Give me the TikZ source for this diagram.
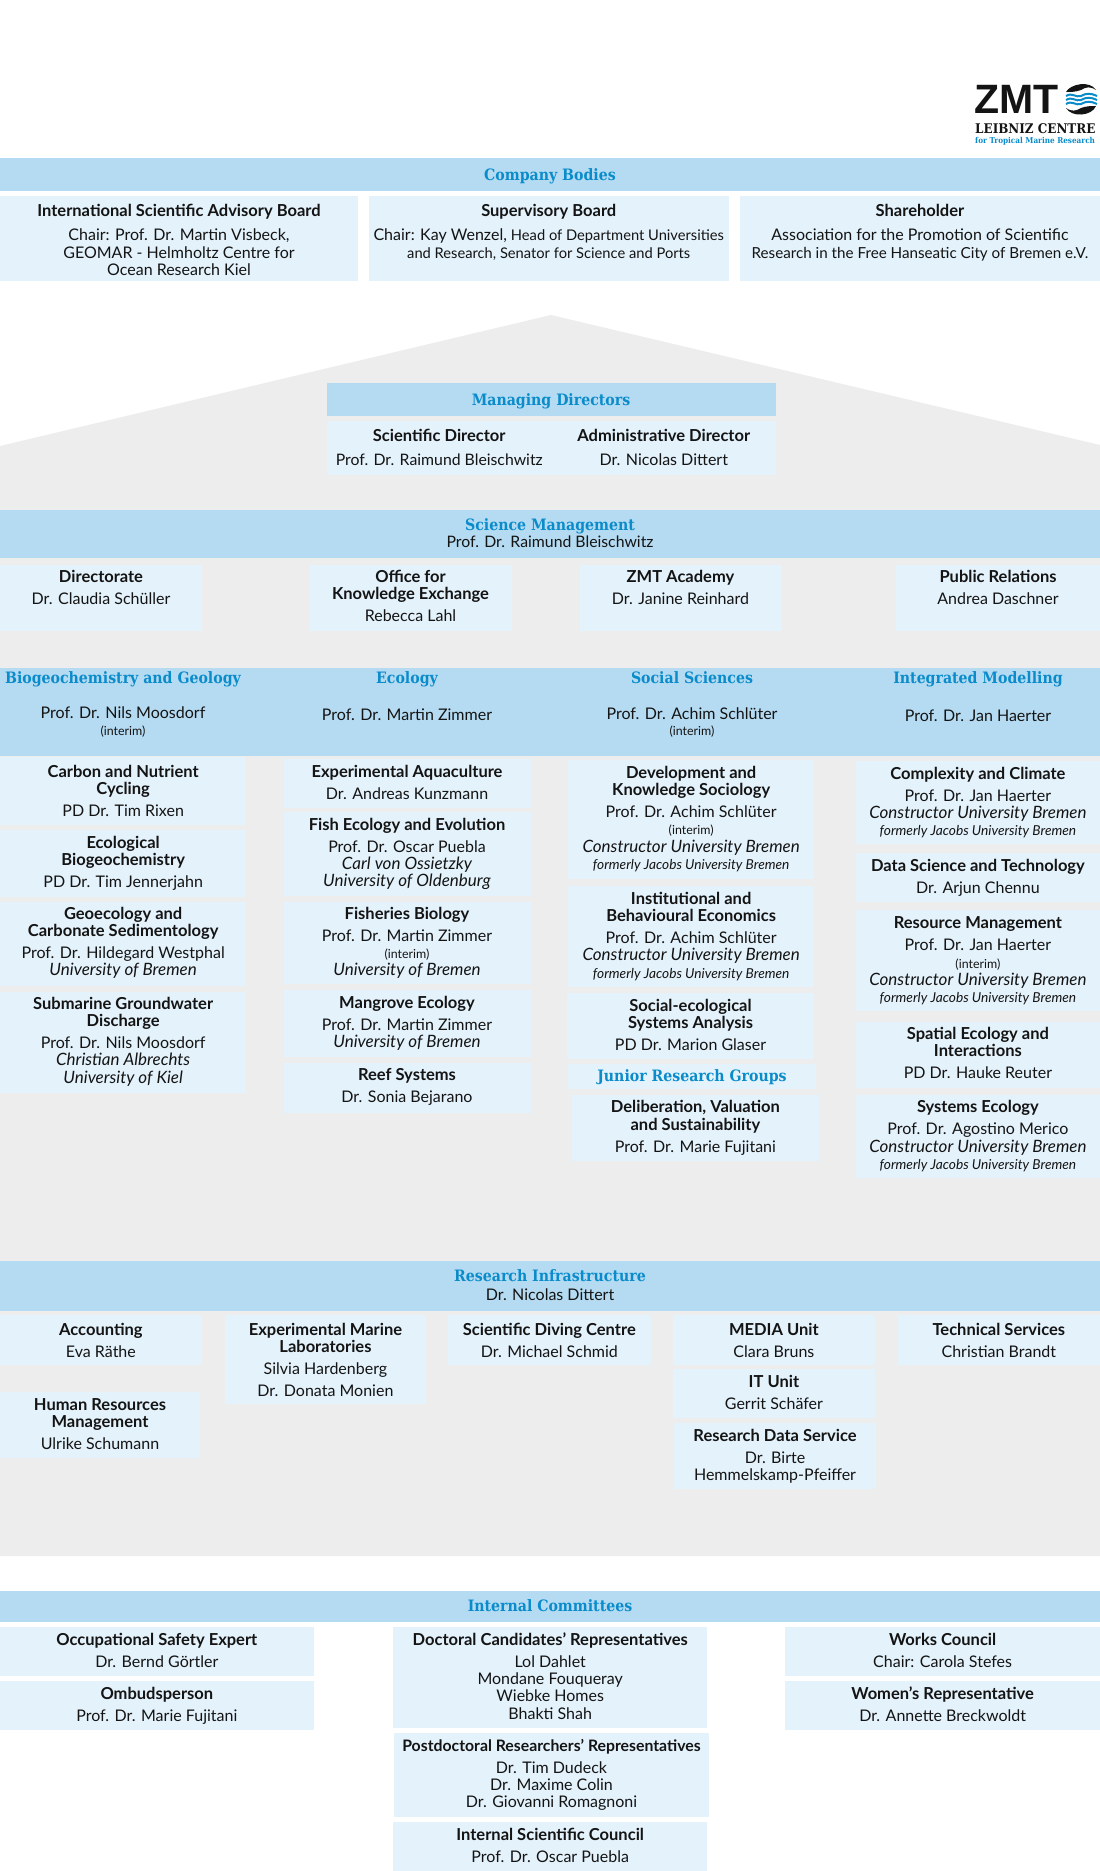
\documentclass[tikz,border=0pt]{standalone}
\usepackage{fontspec}
\setmainfont{Lato}
\newfontfamily\slabfont{DejaVu Serif Condensed}
\newfontfamily\logofont{Liberation Sans}
\definecolor{bandblue}{HTML}{B5DBF2}
\definecolor{boxblue}{HTML}{E4F2FB}
\definecolor{housegrey}{HTML}{EDEDED}
\definecolor{headblue}{HTML}{0A8CCB}
\definecolor{inkblack}{HTML}{141414}
\tikzset{
  bandbox/.style={rectangle,fill=bandblue,draw=none,inner sep=0pt,outer sep=0pt},
  cellbox/.style={rectangle,fill=boxblue,draw=none,inner sep=0pt,outer sep=0pt},
  celltext/.style={anchor=north,inner sep=0pt,outer sep=0pt,align=center,text=inkblack,font=\fontsize{16}{17.4}\selectfont},
  headtext/.style={anchor=base,inner sep=0pt,outer sep=0pt,text=headblue,font=\slabfont\bfseries\fontsize{15.7}{17}\selectfont},
  nametext/.style={anchor=base,inner sep=0pt,outer sep=0pt,align=center,text=inkblack,font=\fontsize{16}{17.4}\selectfont},
}
\newcommand{\tl}[1]{{\bfseries\fontsize{16.5}{17.4}\selectfont #1}}
\newcommand{\gp}{\\[4.6pt]}
\newcommand{\sml}[1]{{\fontsize{12.4}{17.4}\selectfont #1}}
\newcommand{\un}[1]{{\itshape\fontsize{17}{17.4}\selectfont #1}}
\newcommand{\fm}{{\itshape\fontsize{13.7}{17.4}\selectfont formerly Jacobs University Bremen}}
\newcommand{\cub}{\un{Constructor University Bremen}}
\newcommand{\scs}[1]{{\fontsize{14.7}{17.4}\selectfont #1}}
% name, x1, y1, x2, y2, first baseline, text
\newcommand{\bx}[7]{%
  \node[cellbox,minimum width={(#4-#2)*1pt},minimum height={(#5-#3)*1pt}] (#1) at ({(#2+#4)/2},{(#3+#5)/2}) {};
  \node[celltext] (#1-t) at ({(#2+#4)/2},{#6-14}) {\rule{0pt}{14pt}#7};
}
% name, x1, y1, x2, y2
\newcommand{\band}[5]{%
  \node[bandbox,minimum width={(#4-#2)*1pt},minimum height={(#5-#3)*1pt}] (#1) at ({(#2+#4)/2},{(#3+#5)/2}) {};
}
\begin{document}
\begin{tikzpicture}[x=1pt,y=-1pt]
\useasboundingbox (0,0) rectangle (1100,1871);
\fill[white] (0,0) rectangle (1100,1871);
% house
\fill[housegrey] (0,446) -- (551,315) -- (1100,445) -- (1100,1556) -- (0,1556) -- cycle;

% logo
\node[anchor=base west,inner sep=0pt,text=inkblack,font=\logofont\bfseries\fontsize{41}{41}\selectfont] (logoz) at (974,113) {ZMT};
\node[anchor=base west,inner sep=0pt,text=inkblack,font=\slabfont\bfseries\fontsize{13.3}{14}\selectfont] (logol) at (975,133) {LEIBNIZ CENTRE};
\node[anchor=base west,inner sep=0pt,text=headblue,font=\slabfont\bfseries\fontsize{8.1}{9}\selectfont] (logor) at (975,143) {for Tropical Marine Research};
\fill[inkblack] (1066,92) .. controls (1070,84) and (1090,80) .. (1096,90) .. controls (1090,86) and (1086,87) .. (1081,90) .. controls (1076,92) and (1070,92) .. (1066,92) -- cycle;
\fill[inkblack] (1096,106) .. controls (1092,116) and (1072,118) .. (1066,108) .. controls (1072,112) and (1076,111) .. (1081,108) .. controls (1086,106) and (1092,106) .. (1096,106) -- cycle;
\draw[headblue,line width=2pt] (1066,96) .. controls (1072,92) and (1076,98) .. (1081,96) .. controls (1086,93) and (1091,93) .. (1097,96);
\draw[headblue,line width=2pt] (1066,100) .. controls (1072,96) and (1076,102) .. (1081,100) .. controls (1086,97) and (1091,97) .. (1097,100);
\draw[headblue,line width=2pt] (1066,104) .. controls (1072,100) and (1076,106) .. (1081,104) .. controls (1086,101) and (1091,101) .. (1097,104);

% company bodies
\band{bodies}{0}{157.5}{1100}{191}
\node[headtext] (bodies-h) at (550,180.5) {Company Bodies};
\bx{isab}{0}{195.7}{358}{281}{216.7}{\tl{International Scientific Advisory Board}\\[6.5pt]Chair: Prof. Dr. Martin Visbeck,\\GEOMAR - Helmholtz Centre for\\Ocean Research Kiel}
\bx{super}{369}{195.7}{728.5}{281}{216.7}{\tl{Supervisory Board}\\[6.5pt]Chair: Kay Wenzel, \scs{Head of Department Universities}\\\scs{and Research, Senator for Science and Ports}}
\bx{share}{740}{195.7}{1100}{281}{216.7}{\tl{Shareholder}\\[6.5pt]Association for the Promotion of Scientific\\{\fontsize{15.2}{17.4}\selectfont Research in the Free Hanseatic City of Bremen e.V.}}

% managing directors
\band{mgmt}{327}{383}{776}{416}
\node[headtext] (mgmt-h) at (551,405) {Managing Directors};
\bx{scidir}{327}{421}{551.5}{474.5}{441.7}{\tl{Scientific Director}\\[6.5pt]{\fontsize{15.8}{17.4}\selectfont Prof. Dr. Raimund Bleischwitz}}
\bx{admdir}{551.5}{421}{776}{474.5}{441.7}{\tl{Administrative Director}\\[6.5pt]Dr. Nicolas Dittert}

% science management
\band{scim}{0}{509.5}{1100}{558}
\node[headtext] (scim-h) at (550,530) {Science Management};
\node[nametext] (scim-n) at (550,547) {{\fontsize{15.8}{17.4}\selectfont Prof. Dr. Raimund Bleischwitz}};
\bx{direct}{0}{564.5}{202}{630.5}{582}{\tl{Directorate}\gp Dr. Claudia Schüller}
\bx{office}{309.5}{564.5}{511.5}{630.5}{582}{\tl{Office for}\\\tl{Knowledge Exchange}\gp Rebecca Lahl}
\bx{academy}{579.5}{564.5}{781.5}{630.5}{582}{\tl{ZMT Academy}\gp Dr. Janine Reinhard}
\bx{public}{896}{564.5}{1100}{630.5}{582}{\tl{Public Relations}\gp Andrea Daschner}

% divisions
\band{divs}{0}{668}{1100}{756}
\node[headtext] (bio-h) at (123,683) {Biogeochemistry and Geology};
\node[headtext] (eco-h) at (407,683) {Ecology};
\node[headtext] (soc-h) at (692,683) {Social Sciences};
\node[headtext] (mod-h) at (978,683) {Integrated Modelling};
\node[nametext] (bio-n) at (123,718) {Prof. Dr. Nils Moosdorf};
\node[nametext] (bio-i) at (123,735) {\sml{(interim)}};
\node[nametext] (eco-n) at (407,720.5) {Prof. Dr. Martin Zimmer};
\node[nametext] (soc-n) at (692,719) {Prof. Dr. Achim Schlüter};
\node[nametext] (soc-i) at (692,735) {\sml{(interim)}};
\node[nametext] (mod-n) at (978,721) {Prof. Dr. Jan Haerter};

% column 1
\bx{carbon}{0}{757.3}{246.3}{825}{777}{\tl{Carbon and Nutrient}\\\tl{Cycling}\gp PD Dr. Tim Rixen}
\bx{ecobio}{0}{830}{246.3}{896.7}{848}{\tl{Ecological}\\\tl{Biogeochemistry}\gp PD Dr. Tim Jennerjahn}
\bx{geoeco}{0}{902.3}{246.3}{985.7}{919}{\tl{Geoecology and}\\\tl{Carbonate Sedimentology}\gp Prof. Dr. Hildegard Westphal\\\un{University of Bremen}}
\bx{subgw}{0}{991.7}{246.3}{1093.3}{1009}{\tl{Submarine Groundwater}\\\tl{Discharge}\gp Prof. Dr. Nils Moosdorf\\\un{Christian Albrechts}\\\un{University of Kiel}}

% column 2
\bx{expaq}{283.5}{759}{530.5}{808.3}{777}{\tl{Experimental Aquaculture}\gp Dr. Andreas Kunzmann}
\bx{fish}{283.5}{812.3}{530.5}{896}{830}{\tl{Fish Ecology and Evolution}\gp Prof. Dr. Oscar Puebla\\\un{Carl von Ossietzky}\\\un{University of Oldenburg}}
\bx{fisheries}{283.5}{901.7}{530.5}{984.3}{919}{\tl{Fisheries Biology}\gp Prof. Dr. Martin Zimmer\\\sml{(interim)}\\\un{University of Bremen}}
\bx{mangrove}{283.5}{990}{530.5}{1056.7}{1008}{\tl{Mangrove Ecology}\gp Prof. Dr. Martin Zimmer\\\un{University of Bremen}}
\bx{reef}{283.5}{1062.7}{530.5}{1113}{1080.7}{\tl{Reef Systems}\gp Dr. Sonia Bejarano}

% column 3
\bx{devk}{568}{760}{814.3}{879}{778}{\tl{Development and}\\\tl{Knowledge Sociology}\gp Prof. Dr. Achim Schlüter\\\sml{(interim)}\\\cub\\\fm}
\bx{inst}{568}{886.4}{814.3}{987}{904}{\tl{Institutional and}\\\tl{Behavioural Economics}\gp Prof. Dr. Achim Schlüter\\\cub\\\fm}
\bx{sesa}{567}{993.4}{814}{1059.3}{1011}{\tl{Social-ecological}\\\tl{Systems Analysis}\gp PD Dr. Marion Glaser}
\bx{junior}{568}{1063.7}{816}{1089}{1081}{\textcolor{headblue}{\slabfont\bfseries\fontsize{15.7}{17}\selectfont Junior Research Groups}}
\bx{delib}{571.8}{1095}{819}{1161.4}{1112.7}{\tl{Deliberation, Valuation}\\\tl{and Sustainability}\gp Prof. Dr. Marie Fujitani}

% column 4
\bx{climate}{855.8}{760.7}{1100}{844}{779}{\tl{Complexity and Climate}\gp Prof. Dr. Jan Haerter\\\cub\\\fm}
\bx{data}{855.8}{853.2}{1100}{902}{871}{\tl{Data Science and Technology}\gp Dr. Arjun Chennu}
\bx{resource}{855.8}{910}{1100}{1011.4}{928.6}{\tl{Resource Management}\gp Prof. Dr. Jan Haerter\\\sml{(interim)}\\\cub\\\fm}
\bx{spatial}{855.8}{1021.5}{1100}{1088.4}{1039.4}{\tl{Spatial Ecology and}\\\tl{Interactions}\gp PD Dr. Hauke Reuter}
\bx{systems}{855.8}{1095}{1100}{1178}{1112.7}{\tl{Systems Ecology}\gp Prof. Dr. Agostino Merico\\\cub\\\fm}

% research infrastructure
\band{infra}{0}{1260.7}{1100}{1310.7}
\node[headtext] (infra-h) at (550,1281) {Research Infrastructure};
\node[nametext] (infra-n) at (550,1300) {Dr. Nicolas Dittert};
\bx{account}{0}{1315}{201.8}{1364.5}{1335}{\tl{Accounting}\gp Eva Räthe}
\bx{hr}{0}{1392.3}{200}{1458.3}{1410}{\tl{Human Resources}\\\tl{Management}\gp Ulrike Schumann}
\bx{marine}{224.6}{1315}{426.3}{1404.3}{1335}{\tl{Experimental Marine}\\\tl{Laboratories}\gp Silvia Hardenberg\gp Dr. Donata Monien}
\bx{diving}{448}{1315}{650.7}{1364.5}{1335}{\tl{Scientific Diving Centre}\gp Dr. Michael Schmid}
\bx{media}{672.8}{1315}{875}{1364.7}{1335}{\tl{MEDIA Unit}\gp Clara Bruns}
\bx{itunit}{672.8}{1369.3}{875}{1418.3}{1387.7}{\tl{IT Unit}\gp Gerrit Schäfer}
\bx{rds}{674}{1422.7}{876}{1489}{1441}{\tl{Research Data Service}\gp Dr. Birte\\Hemmelskamp-Pfeiffer}
\bx{techn}{897.7}{1315}{1100}{1364.5}{1335}{\tl{Technical Services}\gp Christian Brandt}

% internal committees
\band{intc}{0}{1591}{1100}{1622}
\node[headtext] (intc-h) at (550,1611.7) {Internal Committees};
\bx{occ}{0}{1626.7}{313.7}{1675.7}{1645}{\tl{Occupational Safety Expert}\gp Dr. Bernd Görtler}
\bx{omb}{0}{1681}{313.7}{1730}{1699}{\tl{Ombudsperson}\gp Prof. Dr. Marie Fujitani}
\bx{docrep}{393}{1626.7}{707.4}{1728.3}{1645}{\tl{Doctoral Candidates’ Representatives}\gp Lol Dahlet\\Mondane Fouqueray\\Wiebke Homes\\Bhakti Shah}
\bx{postrep}{394}{1733.3}{709}{1817}{1751}{{\bfseries\fontsize{15.8}{17.4}\selectfont Postdoctoral Researchers’ Representatives}\gp Dr. Tim Dudeck\\Dr. Maxime Colin\\Dr. Giovanni Romagnoni}
\bx{council}{393}{1822.3}{707.4}{1871}{1840}{\tl{Internal Scientific Council}\gp Prof. Dr. Oscar Puebla}
\bx{works}{785.3}{1626.7}{1100}{1675.7}{1645}{\tl{Works Council}\gp Chair: Carola Stefes}
\bx{women}{785.3}{1681}{1100}{1730}{1699}{\tl{Women’s Representative}\gp Dr. Annette Breckwoldt}
\end{tikzpicture}
\end{document}
